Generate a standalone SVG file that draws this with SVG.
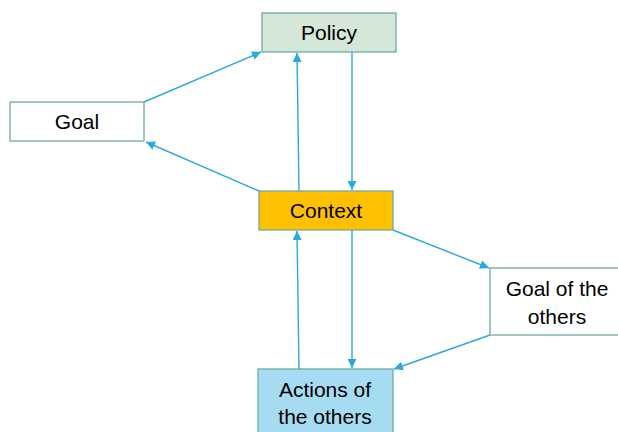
<svg xmlns="http://www.w3.org/2000/svg" width="618" height="432" viewBox="0 0 618 432">
<style>
.box{stroke:#6fa9a6;stroke-width:1.3}
.lbl{font-family:"Liberation Sans",Arial,sans-serif;font-size:21px;fill:#000;text-anchor:middle}
.edge{stroke:#2aa9e0;stroke-width:1.4;fill:none;marker-end:url(#ah)}
</style>
<defs>
<marker id="ah" viewBox="0 0 10 10" refX="10" refY="5" markerWidth="9" markerHeight="9" markerUnits="userSpaceOnUse" orient="auto">
<path d="M0,0 L10,5 L0,10 z" fill="#2aa9e0"/>
</marker>
</defs>
<rect width="618" height="432" fill="#fff"/>
<g id="connectors">
<line class="edge" x1="144" y1="102" x2="261" y2="52"/>
<line class="edge" x1="259" y1="191" x2="146" y2="142"/>
<line class="edge" x1="299" y1="191" x2="297" y2="53"/>
<line class="edge" x1="352" y1="52" x2="352" y2="190"/>
<line class="edge" x1="352" y1="230" x2="352" y2="368"/>
<line class="edge" x1="299" y1="369" x2="297" y2="231"/>
<line class="edge" x1="393" y1="230" x2="489" y2="268"/>
<line class="edge" x1="490" y1="335" x2="394" y2="369"/>
</g>
<g id="policy">
<rect class="box" x="262" y="13" width="134" height="39" fill="#d5e8d8"/>
<text class="lbl" x="329" y="40">Policy</text>
</g>
<g id="goal">
<rect class="box" x="10" y="102" width="134" height="39" fill="#fff"/>
<text class="lbl" x="77" y="129">Goal</text>
</g>
<g id="context">
<rect class="box" x="259" y="191" width="134" height="39" fill="#ffc000"/>
<text class="lbl" x="326" y="218">Context</text>
</g>
<g id="goal-of-others">
<rect class="box" x="490" y="268" width="134" height="67" fill="#fff"/>
<text class="lbl" x="557" y="296">Goal of the</text>
<text class="lbl" x="557" y="324">others</text>
</g>
<g id="actions-of-others">
<rect class="box" x="258" y="369" width="135" height="70" fill="#a6dcf2"/>
<text class="lbl" x="325" y="397">Actions of</text>
<text class="lbl" x="325" y="424">the others</text>
</g>
</svg>
